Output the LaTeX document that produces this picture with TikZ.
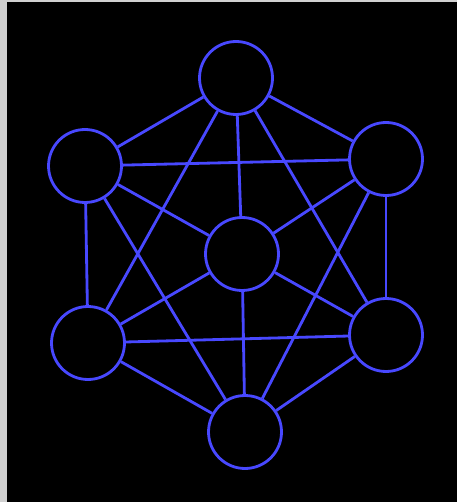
\documentclass[tikz,border=0pt]{standalone}
\usepackage{tikz}
\usetikzlibrary{backgrounds}
\definecolor{netBlue}{RGB}{72, 72, 255}
\definecolor{frameGray}{RGB}{208, 208, 208}

\begin{document}
\begin{tikzpicture}[x=0.02cm, y=-0.02cm,
    hub/.style={circle, draw=netBlue, line width=1.6pt, minimum size=1.46cm, inner sep=0pt},
    link/.style={draw=netBlue, line width=1.6pt}]
    % Frame and dark background
    \fill[frameGray] (0,0) rectangle (457,502);
    \fill[black] (7,2) rectangle (457,502);
    \useasboundingbox (0,0) rectangle (457,502);

    % Outer ring of six hubs and one in the middle
    \node[hub] (top) at (236,78) {};
    \node[hub] (upright) at (386,159) {};
    \node[hub] (lowright) at (386,335) {};
    \node[hub] (bottom) at (245,432) {};
    \node[hub] (lowleft) at (88,343) {};
    \node[hub] (upleft) at (85,166) {};
    \node[hub] (mid) at (242,254) {};

    % Every hub linked to every other one
    \foreach \a/\b in {top/upright, upright/lowright, lowright/bottom, bottom/lowleft, lowleft/upleft, upleft/top,
                       top/lowright, upright/bottom, lowright/lowleft, bottom/upleft, lowleft/top, upleft/upright,
                       mid/top, mid/upright, mid/lowright, mid/bottom, mid/lowleft, mid/upleft} {
        \draw[link] (\a) -- (\b);
    }
\end{tikzpicture}
\end{document}
